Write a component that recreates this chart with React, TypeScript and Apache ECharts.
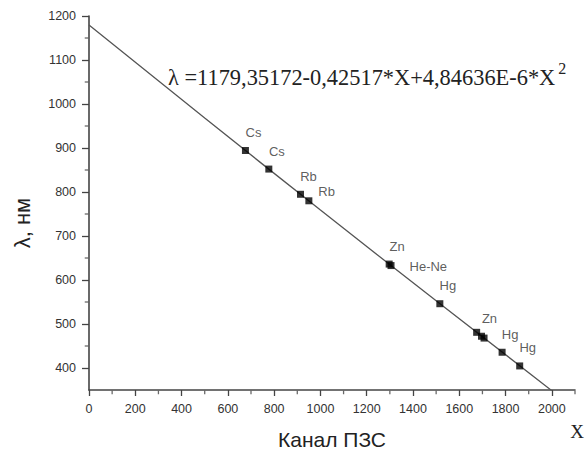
import React, { useEffect, useRef } from "react";
import * as echarts from "echarts";

// Measured points (channel X, wavelength nm) and their element labels
const pointX = [676, 777, 914, 950, 1297, 1305, 1516, 1675, 1696, 1707, 1785, 1861];
const pointY = [894.3, 852.1, 794.8, 780.0, 636.2, 632.8, 546.1, 481.1, 472.2, 468.0, 435.8, 404.7];
const pointLabels = ["Cs", "Cs", "Rb", "Rb", "Zn", "He-Ne", "Hg", "", "Zn", "", "Hg", "Hg"];

// Fit curve
const fitX = [0, 500, 1000, 1500, 2000];
const fitY = [1179.4, 968.3, 759.0, 552.8, 348.4];

// Axis ticks
const xMin = 0;
const xMax = 2100;
const yMin = 350;
const yMax = 1200;
const xTicks = [0, 200, 400, 600, 800, 1000, 1200, 1400, 1600, 1800, 2000];
const xMinorTicks = [100, 300, 500, 700, 900, 1100, 1300, 1500, 1700, 1900, 2100];
const yTicks = [400, 500, 600, 700, 800, 900, 1000, 1100, 1200];
const yMinorTicks = [450, 550, 650, 750, 850, 950, 1050, 1150];

const equationMain = "λ =1179,35172-0,42517*X+4,84636E-6*X";
const equationSup = "2";

export default function App() {
  const ref = useRef<HTMLDivElement>(null);
  useEffect(() => {
    if (!ref.current) return;
    const chart = echarts.init(ref.current, null, { renderer: "svg" });
    const axisColor = "#444";
    const labelStyle = {
      color: "#333",
      fontFamily: "Arial, Liberation Sans",
      fontSize: 12.5,
      formatter: (v: number) => String(v),
    };
    const placement = (i: number) => {
      if (i === 3) return { position: "right", offset: [1, -9] };
      if (i === 5) return { position: "right", offset: [10, 1] };
      return { position: "top", offset: [8, -3] };
    };
    chart.setOption({
      animation: false,
      backgroundColor: "#fff",
      grid: { left: 89, top: 16, width: 486, height: 374, containLabel: false },
      xAxis: {
        type: "value",
        min: xMin,
        max: xMax,
        axisLine: { show: true, onZero: false, lineStyle: { color: axisColor, width: 1.6 } },
        axisTick: { show: true, customValues: xTicks, length: 6, lineStyle: { color: axisColor, width: 1.3 } },
        axisLabel: { show: true, customValues: xTicks, margin: 12, ...labelStyle },
        splitLine: { show: false },
      },
      yAxis: {
        type: "value",
        min: yMin,
        max: yMax,
        axisLine: { show: true, onZero: false, lineStyle: { color: axisColor, width: 1.6 } },
        axisTick: { show: true, customValues: yTicks, length: 7, lineStyle: { color: axisColor, width: 1.3 } },
        axisLabel: { show: true, customValues: yTicks, margin: 13, ...labelStyle },
        splitLine: { show: false },
      },
      series: [
        {
          type: "line",
          data: fitX.map((x, i) => [x, fitY[i]]),
          smooth: true,
          showSymbol: false,
          symbol: "none",
          lineStyle: { color: "#555", width: 1.3 },
          clip: true,
          silent: true,
          z: 2,
        },
        {
          type: "scatter",
          symbol: "rect",
          symbolSize: 7,
          itemStyle: { color: "#000" },
          z: 3,
          data: pointX.map((x, i) => ({
            value: [x, pointY[i]],
            name: pointLabels[i],
            label: {
              show: pointLabels[i] !== "",
              formatter: "{b}",
              color: "#333",
              fontFamily: "Arial, Liberation Sans",
              fontSize: 13,
              distance: 5,
              ...placement(i),
            },
          })),
        },
        {
          // minor ticks of the x axis
          type: "scatter",
          symbol: "rect",
          symbolSize: [1.3, 3.5],
          symbolOffset: [0, 2.5],
          itemStyle: { color: axisColor },
          clip: false,
          silent: true,
          data: xMinorTicks.map((v) => [v, yMin]),
        },
        {
          // minor ticks of the y axis
          type: "scatter",
          symbol: "rect",
          symbolSize: [3.5, 1.3],
          symbolOffset: [-2.5, 0],
          itemStyle: { color: axisColor },
          clip: false,
          silent: true,
          data: yMinorTicks.map((v) => [xMin, v]),
        },
      ],
      graphic: [
        {
          type: "text",
          left: 168,
          top: 60,
          style: {
            text: "{m|" + equationMain + "}{s|" + equationSup + "}",
            rich: {
              m: { fontFamily: "Liberation Serif, Times New Roman", fontSize: 22.4, fill: "#222", verticalAlign: "bottom" },
              s: { fontFamily: "Liberation Serif, Times New Roman", fontSize: 16, fill: "#222", verticalAlign: "bottom", padding: [0, 0, 12, 3] },
            },
          },
        },
        {
          type: "text",
          x: 22,
          y: 223,
          rotation: Math.PI / 2,
          style: {
            text: "λ, нм",
            fontFamily: "Arial, Liberation Sans",
            fontSize: 22,
            fill: "#222",
            align: "center",
            verticalAlign: "middle",
          },
        },
        {
          type: "text",
          x: 332,
          y: 439,
          style: {
            text: "Канал ПЗС",
            fontFamily: "Arial, Liberation Sans",
            fontSize: 21,
            fill: "#222",
            align: "center",
            verticalAlign: "middle",
          },
        },
        {
          type: "text",
          x: 577,
          y: 431,
          style: {
            text: "X",
            fontFamily: "Liberation Serif, Times New Roman",
            fontSize: 19,
            fill: "#222",
            align: "center",
            verticalAlign: "middle",
          },
        },
      ],
    });
    return () => chart.dispose();
  }, []);
  return (
    <div
      ref={ref}
      style={{ position: "absolute", left: 0, top: 0, width: 587, height: 454 }}
    />
  );
}
